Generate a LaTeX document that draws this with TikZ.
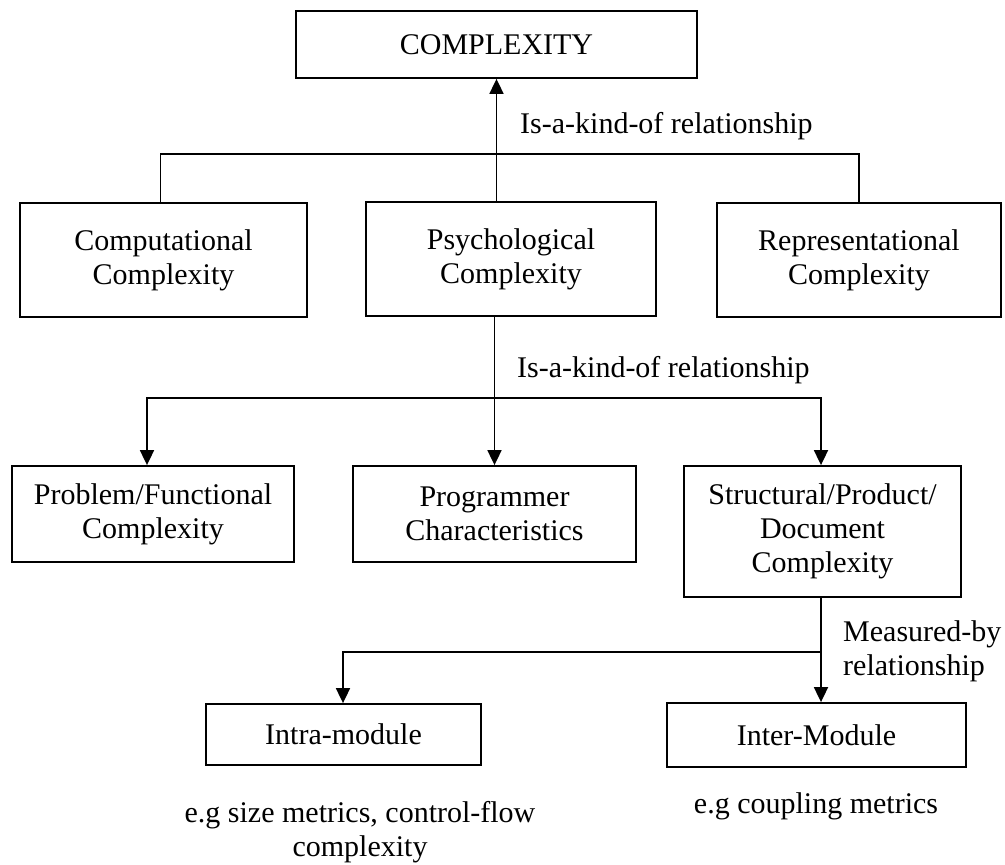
\documentclass[tikz,border=0pt]{standalone}
\usepackage{fontspec}
\setmainfont{Liberation Serif}
\usetikzlibrary{arrows.meta}
\begin{document}
\begin{tikzpicture}[x=1pt,y=-1pt,
  box/.style={draw, line width=1.8pt, inner sep=0pt, align=center,
    font=\fontsize{30}{34}\selectfont},
  lbl/.style={inner sep=0pt, font=\fontsize{30}{34}\selectfont},
  link/.style={line width=1.8pt},
  arr/.style={link, -{Triangle[length=15pt,width=14pt]}}]
\useasboundingbox (0,0) rectangle (1005,865);

% boxes
\node[box, minimum width=401pt, minimum height=67pt] (top) at (496.5,44.5) {COMPLEXITY};
\node[box, minimum width=287pt, minimum height=114pt] (comp) at (163.5,260) {Computational\\Complexity};
\node[box, minimum width=290pt, minimum height=114pt] (psych) at (511,259) {Psychological\\Complexity};
\node[box, minimum width=284pt, minimum height=114pt] (repr) at (859,260) {Representational\\Complexity};
\node[box, minimum width=282pt, minimum height=96pt] (prob) at (153,514) {Problem/Functional\\Complexity};
\node[box, minimum width=283pt, minimum height=96pt] (prog) at (494.5,514) {Programmer\\Characteristics};
\node[box, minimum width=277pt, minimum height=131pt] (struct) at (822.5,531.5) {Structural/Product/\\Document\\Complexity};
\node[box, minimum width=275pt, minimum height=61pt] (intra) at (343.5,734.5) {Intra-module};
\node[box, minimum width=299pt, minimum height=64pt] (inter) at (816.5,735) {Inter-Module};

% first level: kinds of complexity
\coordinate (b1) at (496.5,154);
\draw[link] ([xshift=-3pt]comp.north) |- (b1) -| (repr.north);
\draw[arr] (top.south |- psych.north) -- (top.south);

% second level: kinds of psychological complexity
\coordinate (h2) at (0,398);
\coordinate (b2) at (prog.north |- h2);
\draw[link] (psych.south -| b2) -- (b2);
\draw[arr] (b2) -- (prog.north);
\draw[arr] (b2) -| ([xshift=-6pt]prob.north);
\draw[arr] (b2) -| ([xshift=-1.5pt]struct.north);

% third level: measures
\coordinate (h3) at (0,652);
\draw[arr] ([xshift=-1.5pt]struct.south) -- ([xshift=-1.5pt]struct.south |- inter.north);
\draw[arr] ([xshift=-1.5pt]struct.south |- h3) -| ([xshift=-0.5pt]intra.north);

% relationship labels and examples
\node[lbl, anchor=base west] (rel1) at (520,133) {Is-a-kind-of relationship};
\node[lbl, anchor=base west] (rel2) at (517,377) {Is-a-kind-of relationship};
\node[lbl, anchor=west, align=left] (rel3) at (843,651.5) {Measured-by\\relationship};
\node[lbl, align=center] (ex1) at (360,832) {e.g size metrics, control-flow\\complexity};
\node[lbl, anchor=base] (ex2) at (816,813) {e.g coupling metrics};
\end{tikzpicture}
\end{document}
